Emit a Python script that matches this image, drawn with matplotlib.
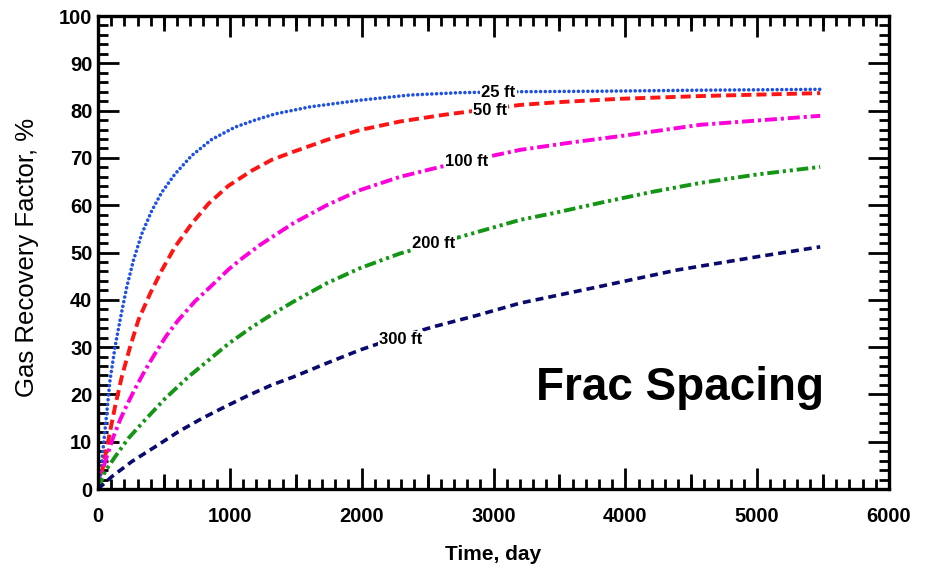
import numpy as np
import matplotlib.pyplot as plt
from matplotlib.ticker import MultipleLocator, FixedLocator

plt.rcParams['font.family'] = ['Liberation Sans', 'DejaVu Sans']

# values (time in days, recovery factor in %)
t_25 = [0, 15, 40, 66, 91, 129, 167, 218, 268, 331, 407, 483, 584, 711, 862, 1039, 1191, 1343,
        1609, 1988, 2367, 2747, 3202, 3809, 4500, 5478]
rf_25 = [0, 1.9, 8.9, 16.0, 23.0, 30.0, 35.7, 42.7, 48.3, 53.9, 58.8, 62.7, 66.6, 70.5, 73.9, 76.5, 78.0, 79.3,
         80.8, 82.2, 83.3, 83.8, 84.0, 84.1, 84.3, 84.5]

t_50 = [0, 28, 78, 129, 180, 243, 306, 395, 483, 584, 711, 837, 989, 1166, 1318, 1482, 1735, 1988,
        2291, 2620, 3202, 3500, 3960, 4600, 5478]
rf_50 = [0, 3.3, 10.3, 17.4, 23.7, 30.0, 35.7, 41.3, 46.2, 51.2, 56.1, 60.3, 64.1, 67.3, 69.6, 71.3, 73.8, 75.9,
         77.7, 79.1, 81.2, 81.8, 82.5, 83.1, 83.7]

t_100 = [0, 28, 66, 116, 167, 218, 281, 357, 432, 521, 609, 736, 862, 989, 1090, 1229, 1482, 1735,
         1988, 2291, 2595, 3202, 3600, 3960, 4567, 5478]
rf_100 = [0, 3.3, 6.8, 11.0, 14.6, 17.7, 21.2, 25.1, 28.6, 32.5, 35.7, 39.7, 43.0, 46.4, 48.7, 51.6, 56.2, 60.0,
          63.2, 66.0, 68.1, 71.7, 73.3, 74.6, 77.0, 78.9]

t_200 = [0, 53, 129, 230, 357, 508, 685, 837, 989, 1166, 1318, 1482, 1735, 1988, 2291, 2747, 3202,
         3452, 3809, 4200, 4567, 5000, 5478]
rf_200 = [0, 3.7, 6.8, 10.7, 14.6, 19.1, 23.7, 27.2, 30.7, 34.2, 36.9, 39.6, 43.5, 46.7, 49.8, 53.3, 56.9,
          58.3, 60.5, 62.8, 64.7, 66.5, 68.1]

t_300 = [0, 104, 256, 432, 609, 787, 964, 1141, 1318, 1482, 1735, 1988, 2241, 2544, 2873, 3202,
         3786, 4393, 5000, 5478]
rf_300 = [0, 2.6, 5.8, 8.9, 12.1, 14.9, 17.4, 19.8, 22.0, 23.7, 26.6, 29.4, 31.8, 34.3, 36.7, 39.3,
          42.7, 46.3, 49.1, 51.2]

labels = ['25 ft', '50 ft', '100 ft', '200 ft', '300 ft']
label_t = [3038, 2974, 2797, 2549, 2297]
label_rf = [83.8, 80.1, 69.3, 51.8, 31.6]

fig = plt.figure(figsize=(9.3, 5.72), dpi=100)
ax = fig.add_axes([0.1054, 0.1451, 0.8505, 0.8269])

ax.plot(t_25, rf_25, color='#1e50e6', lw=2.6, linestyle=(0, (0.01, 1.3)), dash_capstyle='round')
ax.plot(t_50, rf_50, color='#ff1414', lw=2.8, linestyle=(0, (2.6, 1.3)))
ax.plot(t_100, rf_100, color='#ff00dc', lw=2.8, linestyle=(0, (3.1, 1.0, 0.8, 1.0)))
ax.plot(t_200, rf_200, color='#149614', lw=2.8, linestyle=(0, (3.0, 1.0, 0.8, 1.0, 0.8, 1.0)))
ax.plot(t_300, rf_300, color='#0a0a6e', lw=2.6, linestyle=(0, (2.2, 1.4)))

# curve labels with white background cutting the lines
for txt, x, y in zip(labels, label_t, label_rf):
    ax.text(x, y, txt, fontsize=12, fontweight='bold', ha='center', va='center',
            bbox=dict(facecolor='white', edgecolor='none', pad=0.8))

ax.text(4416, 18.8, 'Frac Spacing', fontsize=33, fontweight='bold',
        ha='center', va='baseline')

ax.set_xlim(0, 6000)
ax.set_ylim(0, 100)
ax.xaxis.set_major_locator(MultipleLocator(1000))
ax.xaxis.set_minor_locator(MultipleLocator(100))
ax.yaxis.set_major_locator(MultipleLocator(10))
ax.yaxis.set_minor_locator(MultipleLocator(2))

ax.tick_params(which='both', direction='in', top=True, right=True, width=2)
ax.tick_params(axis='x', which='major', length=15, pad=13, labelsize=14.5)
ax.tick_params(axis='y', which='major', length=15, pad=4, labelsize=14.5)
ax.tick_params(which='minor', length=7)
for lab in ax.get_xticklabels() + ax.get_yticklabels():
    lab.set_fontweight('bold')

# medium ticks every 500 days
for loc in ['bottom', 'top']:
    sec = ax.secondary_xaxis(loc)
    sec.xaxis.set_major_locator(FixedLocator(np.arange(500, 6000, 1000)))
    sec.tick_params(direction='in', length=11, width=2, labelbottom=False, labeltop=False)
    sec.spines[loc].set_visible(False)

for sp in ax.spines.values():
    sp.set_linewidth(2.4)

ax.set_xlabel('Time, day', fontsize=15, fontweight='bold')
ax.set_ylabel('Gas Recovery Factor, %', fontsize=18.5)
ax.xaxis.set_label_coords(0.5, -0.118)
ax.yaxis.set_label_coords(-0.075, 0.49)

fig.savefig('out.png', dpi=100)
